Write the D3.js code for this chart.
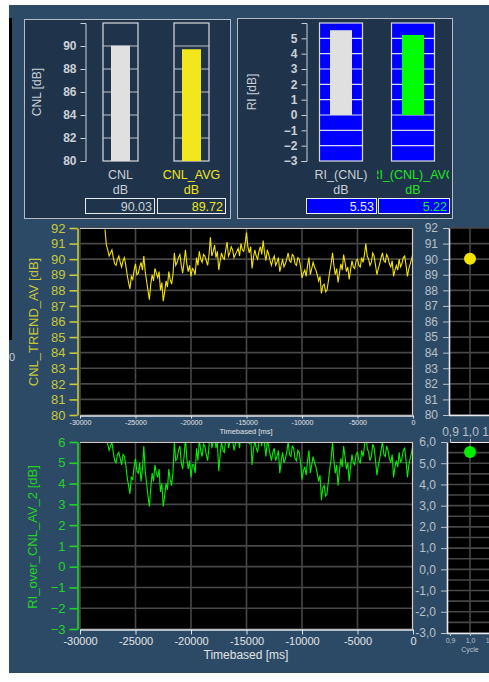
<!DOCTYPE html>
<meta charset="utf-8">
<style>
body { margin: 0; background: #fff; }
svg { display: block; font-family: "Liberation Sans", Arial, sans-serif; }
</style>
<body>
<script src="https://d3js.org/d3.v7.min.js"></script>
<script>

// ---- data ----
var cnlNames = ["CNL", "CNL_AVG"];
var cnlValues = [90.03, 89.72];
var riNames = ["RI_(CNL)", "RI_(CNL)_AVG"];
var riValues = [5.53, 5.22];

var cnlTicks = [80, 82, 84, 86, 88, 90];
var riTicks = [-3, -2, -1, 0, 1, 2, 3, 4, 5];
var trendTicks = [80, 81, 82, 83, 84, 85, 86, 87, 88, 89, 90, 91, 92];
var riTrendTicks = [-3, -2, -1, 0, 1, 2, 3, 4, 5, 6];
var timeTicks = [-30000, -25000, -20000, -15000, -10000, -5000, 0];
var cycleTicks = [0.9, 1.0, 1.1];

// trend samples, one every 125 ms starting at -27750 ms
var trendStart = -27750, trendStep = 125;
var cnlTrend = [
  91.9, 90.9, 90.6, 90.2, 90.4, 90.6, 90.1, 89.7, 89.6, 90.0,
  90.2, 89.8, 89.5, 89.9, 90.1, 89.6, 89.0, 88.5, 88.1, 88.9,
  88.7, 89.3, 89.7, 89.0, 89.1, 89.5, 89.8, 89.3, 90.2, 89.2,
  88.6, 88.0, 87.4, 88.4, 89.0, 88.6, 89.4, 89.1, 88.8, 89.2,
  88.0, 88.5, 87.3, 87.9, 88.6, 88.2, 89.2, 88.7, 88.4, 89.0,
  90.4, 89.6, 89.8, 90.1, 90.3, 89.6, 89.1, 89.8, 90.6, 89.7,
  89.2, 89.6, 88.9, 89.4, 89.3, 89.0, 90.1, 89.6, 90.5, 90.0,
  89.8, 90.3, 90.2, 89.9, 89.6, 90.3, 91.4, 90.2, 90.5, 90.9,
  90.1, 90.5, 89.3, 89.9, 90.4, 90.1, 90.0, 90.6, 91.1, 90.2,
  90.4, 90.8, 90.6, 90.1, 90.3, 90.5, 90.7, 90.2, 91.0, 90.6,
  90.5, 91.0, 91.7, 90.8, 90.4, 90.8, 89.4, 90.1, 90.6, 90.2,
  90.0, 90.5, 90.8, 90.3, 91.2, 90.4, 89.9, 90.6, 90.3, 89.9,
  89.6, 90.0, 90.2, 89.6, 89.8, 90.1, 89.2, 89.6, 90.0, 89.5,
  89.7, 90.0, 90.4, 89.9, 89.8, 90.3, 90.2, 89.7, 89.6, 90.1,
  90.0, 89.5, 88.8, 89.1, 89.3, 88.9, 89.6, 90.1, 89.0, 89.4,
  89.8, 89.5, 89.3, 89.0, 88.6, 88.9, 87.8, 88.3, 88.4, 87.9,
  88.0, 88.6, 89.2, 89.7, 90.4, 89.6, 89.0, 89.4, 88.5, 89.1,
  89.7, 89.3, 90.3, 89.8, 89.2, 89.5, 88.7, 89.3, 89.9, 89.5,
  89.4, 89.9, 90.0, 89.6, 89.5, 90.1, 89.8, 90.3, 91.0, 90.2,
  90.0, 89.6, 89.8, 90.4, 90.2, 89.6, 89.0, 89.4, 89.7, 90.1,
  90.4, 89.9, 89.8, 90.3, 90.1, 89.7, 89.5, 89.9, 88.9, 89.3,
  89.6, 89.3, 90.0, 89.5, 89.7, 90.1, 90.2, 89.6, 88.9, 89.4,
  89.7, 90.0, 90.4
];
var riTrend = [
  6.0, 6.2, 5.9, 5.6, 5.8, 6.0, 5.5, 5.1, 5.0, 5.4,
  5.5, 5.2, 4.9, 5.4, 5.3, 4.9, 4.3, 3.9, 3.5, 4.3,
  4.2, 4.8, 5.2, 4.6, 4.5, 5.0, 4.1, 4.7, 5.8, 4.6,
  4.0, 3.4, 2.9, 3.8, 4.5, 4.1, 4.9, 4.5, 4.3, 4.7,
  3.6, 4.0, 2.9, 3.4, 4.0, 3.7, 4.7, 4.2, 3.9, 4.5,
  6.0, 5.1, 5.2, 5.6, 5.8, 5.0, 4.7, 5.3, 6.2, 5.2,
  4.7, 5.1, 4.3, 4.9, 4.9, 4.5, 5.7, 5.1, 6.1, 5.6,
  5.3, 5.9, 5.8, 5.4, 5.1, 5.8, 6.9, 5.7, 6.0, 6.4,
  5.7, 6.0, 4.6, 5.4, 6.0, 5.6, 5.5, 6.1, 6.6, 5.7,
  6.0, 6.3, 6.1, 5.6, 5.9, 6.0, 6.2, 5.7, 6.5, 6.1,
  6.0, 6.5, 7.2, 6.3, 5.9, 6.3, 4.9, 5.6, 6.1, 5.7,
  5.5, 6.0, 6.3, 5.8, 6.7, 5.9, 5.3, 6.1, 5.8, 5.4,
  5.1, 5.5, 5.7, 5.1, 5.3, 5.6, 4.5, 5.1, 5.5, 5.0,
  5.2, 5.5, 6.0, 5.4, 5.3, 5.8, 5.7, 5.2, 5.1, 5.6,
  5.5, 5.0, 4.2, 4.6, 4.8, 4.4, 5.1, 5.6, 4.5, 4.9,
  5.3, 5.0, 4.8, 4.5, 4.1, 4.4, 3.2, 3.8, 3.9, 3.4,
  3.5, 4.1, 4.7, 5.2, 6.0, 5.1, 4.5, 4.9, 3.9, 4.6,
  5.2, 4.8, 5.8, 5.3, 4.7, 5.0, 4.1, 4.8, 5.4, 5.0,
  4.9, 5.4, 5.5, 5.1, 5.0, 5.6, 5.3, 5.8, 6.5, 5.7,
  5.5, 5.1, 5.3, 5.9, 5.7, 5.1, 4.4, 4.9, 5.2, 5.6,
  6.0, 5.4, 5.3, 5.8, 5.6, 5.2, 5.0, 5.4, 4.3, 4.8,
  5.1, 4.8, 5.5, 5.0, 5.2, 5.6, 5.7, 5.1, 4.3, 4.9,
  5.2, 5.5, 5.9
];

// ---- colours ----
var bgOuter = "#2c4a65", bgPanel = "#1f334a";
var txtGrey = "#c9d0d8", yellow = "#f2e61c", yellowAxis = "#c8c83a", green = "#1ee81e";

var W = 489, H = 682;
var svg = d3.select("body").append("svg").attr("width", W).attr("height", H);
var defs = svg.append("defs");

svg.append("rect").attr("x", 9).attr("y", 5).attr("width", W - 9).attr("height", 668)
  .attr("fill", bgOuter);

// left strip from neighbouring widget
svg.append("rect").attr("x", 9).attr("y", 18).attr("width", 3).attr("height", 322).attr("fill", "#000");
svg.append("text").attr("x", 9).attr("y", 361).attr("fill", txtGrey)
  .style("font-size", "11px").text("0");

function styleAxis(g, col, size) {
  g.selectAll("path, line").attr("stroke", col);
  g.selectAll("text").attr("fill", col).style("font-size", size);
}

// ---------- top bar panels ----------
function barPanel(opt) {
  var g = svg.append("g");
  g.append("rect").attr("x", opt.box[0] + 0.5).attr("y", opt.box[1] + 0.5)
    .attr("width", opt.box[2]).attr("height", opt.box[3])
    .attr("fill", bgPanel).attr("stroke", "#b4bcc6");

  var y = d3.scaleLinear().domain(opt.domain).range([161, 23]);
  var x = d3.scalePoint().domain(opt.names).range(opt.centers);

  var ax = g.append("g").attr("transform", "translate(" + opt.axisX + ",0)")
    .call(d3.axisLeft(y).tickValues(opt.ticks).tickSize(5).tickPadding(4).tickFormat(d3.format("d")));
  styleAxis(ax, txtGrey, "12px");
  ax.selectAll("text").style("font-weight", "bold");

  g.append("text").attr("transform", "translate(" + opt.labelX + ",92) rotate(-90)")
    .attr("text-anchor", "middle").attr("fill", txtGrey).style("font-size", "12px")
    .text(opt.axisLabel);

  var items = g.selectAll(".item").data(opt.names).enter().append("g");

  items.append("rect")
    .attr("x", function(d) { return x(d) - opt.frameW / 2; }).attr("y", y(opt.domain[1]))
    .attr("width", opt.frameW).attr("height", y(opt.domain[0]) - y(opt.domain[1]))
    .attr("fill", opt.frameFill).attr("stroke", "#d8dce0").attr("stroke-width", 1.2);

  items.each(function(d) {
    d3.select(this).selectAll("line").data(opt.grid).enter().append("line")
      .attr("x1", x(d) - opt.frameW / 2).attr("x2", x(d) + opt.frameW / 2)
      .attr("y1", y).attr("y2", y)
      .attr("stroke", opt.gridCol).attr("stroke-width", 1.2);
  });

  items.append("rect")
    .attr("x", function(d) { return x(d) - opt.barW / 2; })
    .attr("y", function(d, i) { return y(opt.values[i]); })
    .attr("width", opt.barW)
    .attr("height", function(d, i) { return y(opt.base) - y(opt.values[i]); })
    .attr("fill", function(d, i) { return opt.barCols[i]; });

  items.append("text")
    .attr("x", x).attr("y", 179).attr("text-anchor", "middle")
    .attr("fill", function(d, i) { return opt.textCols[i]; })
    .attr("clip-path", function(d, i) { return opt.clip[i] ? "url(#" + opt.clip[i] + ")" : null; })
    .style("font-size", "12.5px").text(function(d) { return d; });
  items.append("text")
    .attr("x", x).attr("y", 194).attr("text-anchor", "middle")
    .attr("fill", function(d, i) { return opt.textCols[i]; })
    .style("font-size", "12.5px").text("dB");

  items.append("rect")
    .attr("x", function(d, i) { return opt.valBoxes[i][0] + 0.5; }).attr("y", 198.5)
    .attr("width", function(d, i) { return opt.valBoxes[i][1] - opt.valBoxes[i][0]; })
    .attr("height", 15).attr("fill", opt.valFill).attr("stroke", "#e8ecf0");
  items.append("text")
    .attr("x", function(d, i) { return opt.valBoxes[i][1] - 2; }).attr("y", 211)
    .attr("text-anchor", "end")
    .attr("fill", function(d, i) { return opt.valCols[i]; })
    .style("font-size", "12.5px")
    .text(function(d, i) { return opt.values[i].toFixed(2); });
}

defs.append("clipPath").attr("id", "riAvgClip").append("rect")
  .attr("x", 377).attr("y", 160).attr("width", 72).attr("height", 25);

barPanel({
  box: [24, 19, 206, 199], domain: [80, 92], names: cnlNames, values: cnlValues, base: 80,
  centers: [120.5, 191.5], axisX: 85.5, labelX: 41, axisLabel: "CNL [dB]",
  ticks: cnlTicks, grid: [82, 84, 86, 88, 90], frameW: 35, barW: 19,
  frameFill: bgPanel, gridCol: "#c0c4c8", barCols: ["#e0e0e0", yellow],
  textCols: [txtGrey, yellow], clip: [null, null],
  valBoxes: [[85, 154], [157, 225]], valFill: bgPanel, valCols: [txtGrey, yellow]
});

barPanel({
  box: [237, 18, 215, 200], domain: [-3, 6], names: riNames, values: riValues, base: 0,
  centers: [341, 413], axisX: 306.5, labelX: 256, axisLabel: "RI [dB]",
  ticks: riTicks, grid: [-2, -1, 0, 1, 2, 3, 4, 5], frameW: 43, barW: 22,
  frameFill: "#0000ff", gridCol: "#d8dcf0", barCols: ["#e0e0e0", "#00ff00"],
  textCols: [txtGrey, green], clip: [null, "riAvgClip"],
  valBoxes: [[306, 376], [378, 449]], valFill: "#0000ff", valCols: ["#e8ecf0", green]
});

// ---------- trend charts ----------
function trendChart(opt) {
  var g = svg.append("g");
  var x = d3.scaleLinear().domain([-30000, 0]).range([80, 413]);
  var y = d3.scaleLinear().domain(opt.domain).range(opt.yRange);
  var top = opt.yRange[1], bot = opt.yRange[0];

  g.append("rect").attr("x", 80).attr("y", top).attr("width", 333).attr("height", bot - top)
    .attr("fill", "#000");

  g.selectAll(".hg").data(opt.ticks).enter().append("line")
    .attr("x1", 80).attr("x2", 413).attr("y1", y).attr("y2", y)
    .attr("stroke", "#474747").attr("stroke-width", 1.6);
  g.selectAll(".vg").data(timeTicks).enter().append("line")
    .attr("x1", x).attr("x2", x).attr("y1", top).attr("y2", bot)
    .attr("stroke", "#474747").attr("stroke-width", 1.6);

  var id = opt.id;
  defs.append("clipPath").attr("id", id).append("rect")
    .attr("x", 80).attr("y", top).attr("width", 333).attr("height", bot - top);

  var line = d3.line()
    .x(function(d, i) { return x(trendStart + i * trendStep); })
    .y(function(d) { return y(d); });
  g.append("path").datum(opt.data).attr("d", line)
    .attr("clip-path", "url(#" + id + ")")
    .attr("fill", "none").attr("stroke", opt.lineCol).attr("stroke-width", 1.1);

  // frame top / right
  g.append("path").attr("d", "M80," + (top + 0.5) + "H412.5V" + bot)
    .attr("fill", "none").attr("stroke", "#c8ccd0").attr("stroke-width", 1.2);

  var ay = g.append("g").attr("transform", "translate(77.5,0)")
    .call(d3.axisLeft(y).tickValues(opt.ticks).tickSize(8).tickPadding(4).tickSizeOuter(0)
      .tickFormat(d3.format("d")));
  styleAxis(ay, opt.axisCol, "13px");
  ay.selectAll("path, line").attr("stroke-width", 1.6);

  g.append("text").attr("transform", "translate(" + opt.labelX + "," + opt.labelY + ") rotate(-90)")
    .attr("text-anchor", "middle").attr("fill", opt.axisCol).style("font-size", "13px")
    .text(opt.label);

  var ax = g.append("g").attr("transform", "translate(0," + (bot + 0.5) + ")")
    .call(d3.axisBottom(x).tickValues(timeTicks).tickSize(opt.tickLen).tickPadding(opt.tickPad)
      .tickSizeOuter(0).tickFormat(function(d) { return String(d); }));
  styleAxis(ax, "#e0e4e8", opt.xFont);
  ax.select("path").attr("stroke-width", 1.6);
  g.append("text").attr("x", 246).attr("y", opt.xTitleY).attr("text-anchor", "middle")
    .attr("fill", "#e0e4e8").style("font-size", opt.xTitleFont).text("Timebased [ms]");
}

trendChart({
  id: "clipTrend1", domain: [80, 92], yRange: [415, 228], ticks: trendTicks, data: cnlTrend,
  lineCol: "#f4e400", axisCol: yellowAxis, label: "CNL_TREND_AV [dB]", labelX: 38, labelY: 322,
  tickLen: 3, tickPad: 2, xFont: "7px", xTitleY: 434, xTitleFont: "7.5px"
});

trendChart({
  id: "clipTrend2", domain: [-3, 6], yRange: [629, 442], ticks: riTrendTicks, data: riTrend,
  lineCol: "#00f000", axisCol: "#22d422", label: "RI_over_CNL_AV_2 [dB]", labelX: 37, labelY: 537,
  tickLen: 5, tickPad: 3, xFont: "11px", xTitleY: 659, xTitleFont: "12px"
});

// ---------- right-hand current value charts ----------
function cycleChart(opt) {
  var g = svg.append("g");
  var x = d3.scaleLinear().domain([0.9, 1.1]).range([450, 490]);
  var y = d3.scaleLinear().domain(opt.domain).range(opt.yRange);
  var top = opt.yRange[1], bot = opt.yRange[0];

  g.append("rect").attr("x", opt.axisX).attr("y", top).attr("width", W - opt.axisX)
    .attr("height", bot - top).attr("fill", "#000");
  g.selectAll(".hg").data(opt.grid).enter().append("line")
    .attr("x1", opt.axisX).attr("x2", W).attr("y1", y).attr("y2", y)
    .attr("stroke", "#474747").attr("stroke-width", 1.6);
  g.append("line").attr("x1", x(1.0)).attr("x2", x(1.0)).attr("y1", top).attr("y2", bot)
    .attr("stroke", "#474747").attr("stroke-width", 1.6);

  var ay = g.append("g").attr("transform", "translate(" + opt.axisX + ",0)")
    .call(d3.axisLeft(y).tickValues(opt.ticks).tickSize(6).tickPadding(5).tickSizeOuter(0)
      .tickFormat(opt.fmt));
  styleAxis(ay, "#b8c0c8", "12px");
  ay.select("path").attr("stroke", "#e8ecf0").attr("stroke-width", 1.6);

  g.append("path").attr("d", "M" + opt.axisX + "," + (bot + 0.5) + "H" + W)
    .attr("stroke", "#e8ecf0").attr("stroke-width", 1.4);

  g.append("circle").attr("cx", x(1.0)).attr("cy", y(opt.value)).attr("r", 6)
    .attr("fill", opt.dotCol);

  if (opt.axes) {
    var fmt = function(d) { return d.toFixed(1).replace(".", ","); };
    var at = g.append("g").attr("transform", "translate(0," + top + ")")
      .call(d3.axisTop(x).tickValues(cycleTicks).tickSize(3).tickPadding(3).tickSizeOuter(0)
        .tickFormat(fmt));
    styleAxis(at, "#b8c0c8", "12px");
    at.select("path").attr("stroke", "#e8ecf0");
    var ab = g.append("g").attr("transform", "translate(0," + bot + ")")
      .call(d3.axisBottom(x).tickValues(cycleTicks).tickSize(3).tickPadding(2).tickSizeOuter(0)
        .tickFormat(fmt));
    styleAxis(ab, "#b8c0c8", "7px");
    ab.select("path").remove();
    g.append("text").attr("x", x(1.0)).attr("y", bot + 19).attr("text-anchor", "middle")
      .attr("fill", "#b8c0c8").style("font-size", "7px").text("Cycle");
  }
}

cycleChart({
  domain: [80, 92], yRange: [415, 228], ticks: trendTicks, grid: trendTicks, axisX: 449,
  fmt: d3.format("d"), value: cnlValues[0], dotCol: "#f4e400", axes: false
});

cycleChart({
  domain: [-3, 6], yRange: [633, 442], ticks: riTrendTicks,
  grid: [-3, -2.5, -2, -1.5, -1, -0.5, 0, 0.5, 1, 1.5, 2, 2.5, 3, 3.5, 4, 4.5, 5, 5.5, 6],
  axisX: 447, fmt: function(d) { return d.toFixed(1).replace(".", ","); },
  value: riValues[0], dotCol: "#00ee00", axes: true
});

</script>
</body>
